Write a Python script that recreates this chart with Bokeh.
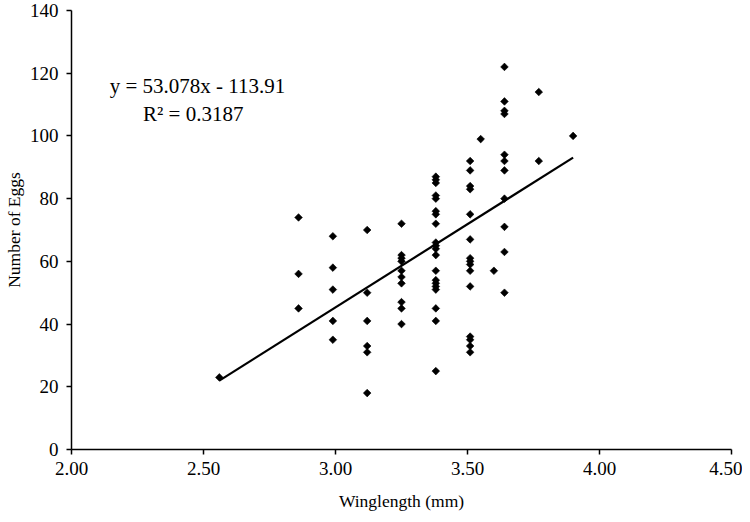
import numpy as np
from bokeh.plotting import figure
from bokeh.models import Range1d, FixedTicker, NumeralTickFormatter, Label, ColumnDataSource
from bokeh.embed import file_html
from bokeh.resources import INLINE

# Data (winglength in mm, number of eggs)
wing_2_56 = [23]
wing_2_86 = [74, 56, 45]
wing_2_99 = [68, 58, 51, 41, 35]
wing_3_12 = [70, 50, 41, 33, 31, 18]
wing_3_25 = [72, 62, 61, 60, 57, 55, 53, 47, 45, 40]
wing_3_38 = [87, 86, 85, 81, 80, 76, 75, 72, 66, 65, 64, 62, 57, 54, 53, 52, 51, 45, 41, 25]
wing_3_51 = [92, 89, 84, 83, 75, 67, 61, 60, 59, 57, 52, 36, 35, 33, 31]
wing_3_55 = [99]
wing_3_60 = [57]
wing_3_64 = [122, 111, 108, 107, 94, 92, 89, 80, 71, 63, 50]
wing_3_77 = [114, 92]
wing_3_90 = [100]

groups = [(2.56, wing_2_56), (2.86, wing_2_86), (2.99, wing_2_99), (3.12, wing_3_12),
          (3.25, wing_3_25), (3.38, wing_3_38), (3.51, wing_3_51), (3.55, wing_3_55),
          (3.60, wing_3_60), (3.64, wing_3_64), (3.77, wing_3_77), (3.90, wing_3_90)]

slope = 53.078
intercept = -113.91
r_squared = 0.3187
x_ticks = [2.0, 2.5, 3.0, 3.5, 4.0, 4.5]
y_ticks = [0, 20, 40, 60, 80, 100, 120, 140]

xs, ys = [], []
for wx, vals in groups:
    for v in vals:
        xs.append(wx)
        ys.append(v)

FONT = "Liberation Serif"

p = figure(width=742, height=514, output_backend="svg", toolbar_location=None,
           x_range=Range1d(2.0, 4.5), y_range=Range1d(0, 140),
           min_border_left=71, min_border_right=11, min_border_top=10, min_border_bottom=65)
p.outline_line_color = None
p.xgrid.visible = False
p.ygrid.visible = False
p.background_fill_color = "white"

# trend line
x_line = np.array([min(xs), max(xs)])
y_line = slope * x_line + intercept
p.line(x_line, y_line, line_color="black", line_width=2.2)

src = ColumnDataSource(dict(x=xs, y=ys))
p.scatter("x", "y", source=src, marker="square", angle=np.pi / 4, size=5.4,
          fill_color="black", line_color="black", line_width=0.6)

for ax in (p.xaxis[0], p.yaxis[0]):
    ax.axis_line_color = "black"
    ax.axis_line_width = 1.5
    ax.major_tick_line_color = "black"
    ax.major_tick_line_width = 1.5
    ax.major_tick_out = 5
    ax.major_tick_in = 0
    ax.minor_tick_line_color = None
    ax.major_label_text_font = FONT
    ax.major_label_text_font_size = "19px"
    ax.major_label_text_color = "black"
    ax.axis_label_text_font = FONT
    ax.axis_label_text_font_size = "17.5px"
    ax.axis_label_text_font_style = "normal"
    ax.axis_label_text_color = "black"

p.xaxis.ticker = FixedTicker(ticks=x_ticks)
p.xaxis.formatter = NumeralTickFormatter(format="0.00")
p.yaxis.ticker = FixedTicker(ticks=y_ticks)
p.xaxis.axis_label = "Winglength (mm)"
p.yaxis.axis_label = "Number of Eggs"
p.xaxis.major_label_standoff = 7
p.yaxis.major_label_standoff = 8
p.xaxis.axis_label_standoff = 13
p.yaxis.axis_label_standoff = 3

eq1 = Label(x=2.477, y=116, text=f"y = {slope}x - {abs(intercept)}", text_font=FONT,
            text_font_size="21px", text_align="center", text_baseline="middle", text_color="black")
eq2 = Label(x=2.461, y=107, text=f"R\u00b2 = {r_squared}", text_font=FONT,
            text_font_size="21px", text_align="center", text_baseline="middle", text_color="black")
p.add_layout(eq1)
p.add_layout(eq2)

open("out.html", "w").write(file_html(p, INLINE))
